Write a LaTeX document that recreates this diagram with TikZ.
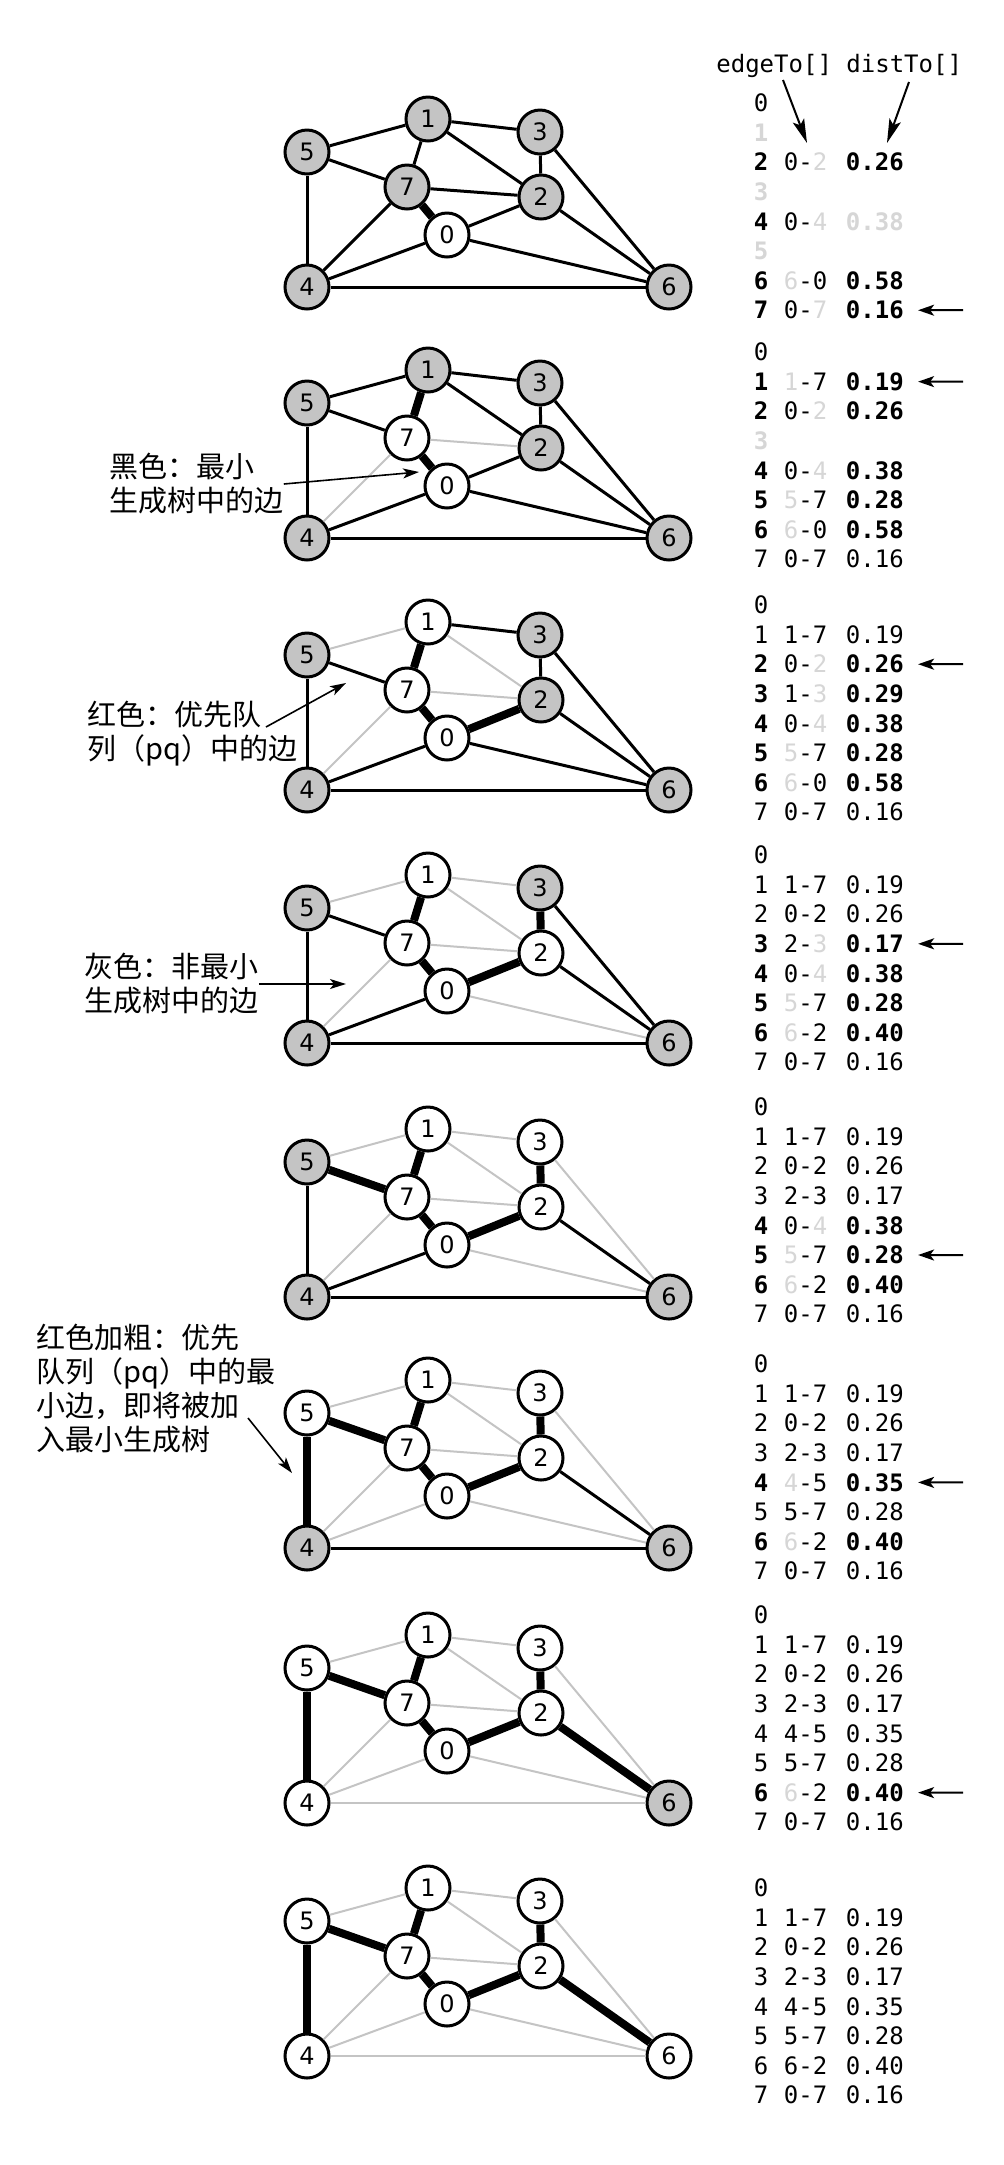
\documentclass[tikz,border=0pt]{standalone}
\usepackage{fontspec}
\setmainfont{DejaVu Sans}
\newfontfamily\tablefont{DejaVu Sans Mono}
\newfontfamily\cjkfont{Noto Sans CJK SC}
\usetikzlibrary{arrows.meta}
\definecolor{VertexFill}{RGB}{196,196,196}
\definecolor{IneligibleColor}{RGB}{196,196,196}
\definecolor{FaintColor}{RGB}{214,214,214}
\newcommand{\Bo}[1]{\textbf{#1}}
\newcommand{\Fa}[1]{\textcolor{FaintColor}{#1}}
\tikzstyle{pointer} = [line width=1pt, -{Stealth[length=12pt,width=6pt,inset=2.5pt]}]
\tikzstyle{note arrow} = [line width=0.8pt, -{Stealth[length=8pt,width=5pt,inset=2pt]}]
\tikzstyle{pick arrow} = [line width=1pt, shorten >=7pt, -{Stealth[length=8pt,width=5.5pt,inset=2pt]}]
\tikzset{
  tree vertex/.style={circle, draw, line width=1.5pt, minimum size=22pt, inner sep=0pt, fill=white, font=\fontsize{12}{14}\selectfont},
  open vertex/.style={tree vertex, fill=VertexFill},
  mst edge/.style={line width=4pt},
  pq edge/.style={line width=1.5pt},
  gray edge/.style={line width=1pt, IneligibleColor},
  cell/.style={anchor=base west, inner sep=0pt, font=\tablefont\fontsize{12}{14}\selectfont},
  note/.style={anchor=west, inner sep=0pt, align=left, font=\cjkfont\fontsize{14.5}{17}\selectfont}
}
% the eight vertex spots of one step, vertex 4 at the origin
\newcommand{\vertexspots}[1]{%
  \foreach \v/\x/\y in {0/447/-52,1/428/-168,2/541/-90,3/540/-155,4/307/0,5/307/-135,6/669/0,7/407/-100}
    \coordinate (#1c\v) at (\x,\y);}
% one table of edgeTo[] and distTo[]
\newcommand{\tablerows}[2]{%
  \foreach \rw/\ix/\ed/\ds in {#2}{
    \node[cell] (#1\rw i) at (753.5,\rw*29.6+8.75) {\ix};
    \node[cell] (#1\rw e) at (783.5,\rw*29.6+8.75) {\ed};
    \node[cell] (#1\rw d) at (845.5,\rw*29.6+8.75) {\ds};
  }}
\newcommand{\pickrow}[2]{%
  \coordinate (#1pick) at (963,#2*29.6);
  \draw[pick arrow] (#1pick) -- (#1#2d);}

\begin{document}
\begin{tikzpicture}[x=0.5pt, y=-0.5pt]
  \fill[white] (0,0) rectangle (1003,2165);

  % Column heads
  \node[cell] (head) at (716,72) {edgeTo[] distTo[]};
  \coordinate (edgetail) at (783,80);
  \coordinate (edgetip) at (807,143);
  \coordinate (disttail) at (909,82);
  \coordinate (disttip) at (887,143);
  \draw[pointer] (edgetail) -- (edgetip);
  \draw[pointer] (disttail) -- (disttip);

  % Step 1
  \begin{scope}[shift={(0,287)}]
    \vertexspots{a}
    \foreach \v in {0} \node[tree vertex] (a\v) at (ac\v) {\v};
    \foreach \v in {1,2,3,4,5,6,7} \node[open vertex] (a\v) at (ac\v) {\v};
    \foreach \ea/\eb in {0/7} \draw[mst edge] (a\ea) -- (a\eb);
    \foreach \ea/\eb in {1/5,1/3,1/7,1/2,5/7,5/4,7/2,7/4,3/2,3/6,2/0,2/6,0/4,0/6,4/6} \draw[pq edge] (a\ea) -- (a\eb);
  \end{scope}
  \begin{scope}[shift={(0,103)}]
    \tablerows{ta}{0/0/{}/{}, 1/\Fa{\Bo{1}}/{}/{}, 2/\Bo{2}/0-\Fa{2}/\Bo{0.26}, 3/\Fa{\Bo{3}}/{}/{},
      4/\Bo{4}/0-\Fa{4}/\Fa{\Bo{0.38}}, 5/\Fa{\Bo{5}}/{}/{}, 6/\Bo{6}/\Fa{6}-0/\Bo{0.58}, 7/\Bo{7}/0-\Fa{7}/\Bo{0.16}}
    \pickrow{ta}{7}
  \end{scope}

  % Step 2
  \begin{scope}[shift={(0,538)}]
    \vertexspots{b}
    \foreach \v in {0,7} \node[tree vertex] (b\v) at (bc\v) {\v};
    \foreach \v in {1,2,3,4,5,6} \node[open vertex] (b\v) at (bc\v) {\v};
    \foreach \ea/\eb in {0/7,1/7} \draw[mst edge] (b\ea) -- (b\eb);
    \foreach \ea/\eb in {7/2,7/4} \draw[gray edge] (b\ea) -- (b\eb);
    \foreach \ea/\eb in {1/5,1/3,1/2,5/7,5/4,3/2,3/6,2/0,2/6,0/4,0/6,4/6} \draw[pq edge] (b\ea) -- (b\eb);
  \end{scope}
  \begin{scope}[shift={(0,352)}]
    \tablerows{tb}{0/0/{}/{}, 1/\Bo{1}/\Fa{1}-7/\Bo{0.19}, 2/\Bo{2}/0-\Fa{2}/\Bo{0.26}, 3/\Fa{\Bo{3}}/{}/{},
      4/\Bo{4}/0-\Fa{4}/\Bo{0.38}, 5/\Bo{5}/\Fa{5}-7/\Bo{0.28}, 6/\Bo{6}/\Fa{6}-0/\Bo{0.58}, 7/7/0-7/0.16}
    \pickrow{tb}{1}
  \end{scope}
  \node[note] (blacknote) at (109,484) {黑色：最小\\生成树中的边};
  \coordinate (blacktip) at (419,472);
  \draw[note arrow] (blacknote.east) -- (blacktip);

  % Step 3
  \begin{scope}[shift={(0,790)}]
    \vertexspots{c}
    \foreach \v in {0,1,7} \node[tree vertex] (c\v) at (cc\v) {\v};
    \foreach \v in {2,3,4,5,6} \node[open vertex] (c\v) at (cc\v) {\v};
    \foreach \ea/\eb in {0/7,1/7,0/2} \draw[mst edge] (c\ea) -- (c\eb);
    \foreach \ea/\eb in {1/5,1/2,7/2,7/4} \draw[gray edge] (c\ea) -- (c\eb);
    \foreach \ea/\eb in {1/3,5/7,5/4,3/2,3/6,2/6,0/4,0/6,4/6} \draw[pq edge] (c\ea) -- (c\eb);
  \end{scope}
  \begin{scope}[shift={(0,605)}]
    \tablerows{tc}{0/0/{}/{}, 1/1/1-7/0.19, 2/\Bo{2}/0-\Fa{2}/\Bo{0.26}, 3/\Bo{3}/1-\Fa{3}/\Bo{0.29},
      4/\Bo{4}/0-\Fa{4}/\Bo{0.38}, 5/\Bo{5}/\Fa{5}-7/\Bo{0.28}, 6/\Bo{6}/\Fa{6}-0/\Bo{0.58}, 7/7/0-7/0.16}
    \pickrow{tc}{2}
  \end{scope}
  \node[note] (rednote) at (87,733.5) {红色：优先队\\列（pq）中的边};
  \coordinate (redtail) at (266,727);
  \coordinate (redtip) at (346,683);
  \draw[note arrow] (redtail) -- (redtip);

  % Step 4
  \begin{scope}[shift={(0,1043)}]
    \vertexspots{d}
    \foreach \v in {0,1,2,7} \node[tree vertex] (d\v) at (dc\v) {\v};
    \foreach \v in {3,4,5,6} \node[open vertex] (d\v) at (dc\v) {\v};
    \foreach \ea/\eb in {0/7,1/7,0/2,2/3} \draw[mst edge] (d\ea) -- (d\eb);
    \foreach \ea/\eb in {1/5,1/3,1/2,7/2,7/4,0/6} \draw[gray edge] (d\ea) -- (d\eb);
    \foreach \ea/\eb in {5/7,5/4,3/6,2/6,0/4,4/6} \draw[pq edge] (d\ea) -- (d\eb);
  \end{scope}
  \begin{scope}[shift={(0,855)}]
    \tablerows{td}{0/0/{}/{}, 1/1/1-7/0.19, 2/2/0-2/0.26, 3/\Bo{3}/2-\Fa{3}/\Bo{0.17},
      4/\Bo{4}/0-\Fa{4}/\Bo{0.38}, 5/\Bo{5}/\Fa{5}-7/\Bo{0.28}, 6/\Bo{6}/\Fa{6}-2/\Bo{0.40}, 7/7/0-7/0.16}
    \pickrow{td}{3}
  \end{scope}
  \node[note] (graynote) at (84,984) {灰色：非最小\\生成树中的边};
  \coordinate (graytip) at (346,984);
  \draw[note arrow] (graynote.east) -- (graytip);

  % Step 5
  \begin{scope}[shift={(0,1297)}]
    \vertexspots{e}
    \foreach \v in {0,1,2,3,7} \node[tree vertex] (e\v) at (ec\v) {\v};
    \foreach \v in {4,5,6} \node[open vertex] (e\v) at (ec\v) {\v};
    \foreach \ea/\eb in {0/7,1/7,0/2,2/3,5/7} \draw[mst edge] (e\ea) -- (e\eb);
    \foreach \ea/\eb in {1/5,1/3,1/2,7/2,7/4,0/6,3/6} \draw[gray edge] (e\ea) -- (e\eb);
    \foreach \ea/\eb in {5/4,2/6,0/4,4/6} \draw[pq edge] (e\ea) -- (e\eb);
  \end{scope}
  \begin{scope}[shift={(0,1107)}]
    \tablerows{te}{0/0/{}/{}, 1/1/1-7/0.19, 2/2/0-2/0.26, 3/3/2-3/0.17,
      4/\Bo{4}/0-\Fa{4}/\Bo{0.38}, 5/\Bo{5}/\Fa{5}-7/\Bo{0.28}, 6/\Bo{6}/\Fa{6}-2/\Bo{0.40}, 7/7/0-7/0.16}
    \pickrow{te}{5}
  \end{scope}

  % Step 6
  \begin{scope}[shift={(0,1548)}]
    \vertexspots{f}
    \foreach \v in {0,1,2,3,5,7} \node[tree vertex] (f\v) at (fc\v) {\v};
    \foreach \v in {4,6} \node[open vertex] (f\v) at (fc\v) {\v};
    \foreach \ea/\eb in {0/7,1/7,0/2,2/3,5/7,5/4} \draw[mst edge] (f\ea) -- (f\eb);
    \foreach \ea/\eb in {1/5,1/3,1/2,7/2,7/4,0/6,3/6,0/4} \draw[gray edge] (f\ea) -- (f\eb);
    \foreach \ea/\eb in {2/6,4/6} \draw[pq edge] (f\ea) -- (f\eb);
  \end{scope}
  \begin{scope}[shift={(0,1364)}]
    \tablerows{tf}{0/0/{}/{}, 1/1/1-7/0.19, 2/2/0-2/0.26, 3/3/2-3/0.17,
      4/\Bo{4}/\Fa{4}-5/\Bo{0.35}, 5/5/5-7/0.28, 6/\Bo{6}/\Fa{6}-2/\Bo{0.40}, 7/7/0-7/0.16}
    \pickrow{tf}{4}
  \end{scope}
  \node[note] (minnote) at (36,1389) {红色加粗：优先\\队列（pq）中的最\\小边，即将被加\\入最小生成树};
  \coordinate (mintail) at (248,1418);
  \coordinate (mintip) at (292,1473);
  \draw[note arrow] (mintail) -- (mintip);

  % Step 7
  \begin{scope}[shift={(0,1803)}]
    \vertexspots{g}
    \foreach \v in {0,1,2,3,4,5,7} \node[tree vertex] (g\v) at (gc\v) {\v};
    \foreach \v in {6} \node[open vertex] (g\v) at (gc\v) {\v};
    \foreach \ea/\eb in {0/7,1/7,0/2,2/3,5/7,5/4,2/6} \draw[mst edge] (g\ea) -- (g\eb);
    \foreach \ea/\eb in {1/5,1/3,1/2,7/2,7/4,0/6,3/6,0/4,4/6} \draw[gray edge] (g\ea) -- (g\eb);
  \end{scope}
  \begin{scope}[shift={(0,1615)}]
    \tablerows{tg}{0/0/{}/{}, 1/1/1-7/0.19, 2/2/0-2/0.26, 3/3/2-3/0.17,
      4/4/4-5/0.35, 5/5/5-7/0.28, 6/\Bo{6}/\Fa{6}-2/\Bo{0.40}, 7/7/0-7/0.16}
    \pickrow{tg}{6}
  \end{scope}

  % Step 8: the finished tree
  \begin{scope}[shift={(0,2056)}]
    \vertexspots{h}
    \foreach \v in {0,1,2,3,4,5,6,7} \node[tree vertex] (h\v) at (hc\v) {\v};
    \foreach \ea/\eb in {0/7,1/7,0/2,2/3,5/7,5/4,2/6} \draw[mst edge] (h\ea) -- (h\eb);
    \foreach \ea/\eb in {1/5,1/3,1/2,7/2,7/4,0/6,3/6,0/4,4/6} \draw[gray edge] (h\ea) -- (h\eb);
  \end{scope}
  \begin{scope}[shift={(0,1888)}]
    \tablerows{th}{0/0/{}/{}, 1/1/1-7/0.19, 2/2/0-2/0.26, 3/3/2-3/0.17,
      4/4/4-5/0.35, 5/5/5-7/0.28, 6/6/6-2/0.40, 7/7/0-7/0.16}
  \end{scope}
\end{tikzpicture}
\end{document}
